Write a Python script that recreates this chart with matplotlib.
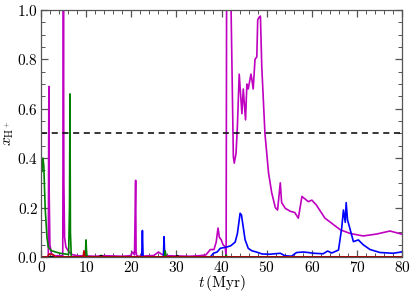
import matplotlib
matplotlib.use("Agg")
import matplotlib.pyplot as plt
from matplotlib.ticker import MultipleLocator, FuncFormatter

plt.rcParams['mathtext.fontset'] = 'cm'
plt.rcParams['font.family'] = ['DejaVu Serif']

# magenta series
t_mag = [0, 1.6, 1.72, 1.8, 1.95, 2.3, 3.0, 4.8, 4.95, 5.05, 5.2, 5.5, 6.0, 6.8, 8, 10, 12,
         14, 16, 18, 19.8, 20.3, 20.7, 20.95, 21.05, 21.2, 21.6, 23, 25, 26, 26.8, 28, 30,
         33, 35, 36.5, 37.5, 38.3, 38.8, 39.2, 39.5, 39.9, 40.3, 40.8, 41.0, 41.1, 42.1,
         42.6, 42.8, 43.2, 43.5, 43.9, 44.5, 44.8, 45.3, 45.6, 45.9, 46.5, 46.7, 47.0,
         47.4, 47.8, 48.0, 48.3, 48.6, 48.9, 49.6, 50.4, 51.1, 51.9, 52.4, 53.0, 53.3,
         54.1, 55.2, 56.2, 57.0, 57.8, 59.2, 60.0, 61.0, 62.9, 66.3, 68.5, 71.4, 74.4,
         77.3, 80]
v_mag = [0, 0.0, 0.69, 0.25, 0.05, 0.012, 0.005, 0.005, 1.0, 0.3, 0.08, 0.04, 0.025, 0.01,
         0.005, 0.004, 0.003, 0.005, 0.004, 0.003, 0.005, 0.02, 0.008, 0.31, 0.02, 0.005,
         0.003, 0.004, 0.006, 0.02, 0.01, 0.005, 0.004, 0.003, 0.005, 0.008, 0.03, 0.03,
         0.06, 0.117, 0.08, 0.07, 0.05, 0.04, 0.0, 1.0, 1.0, 0.406, 0.38, 0.42, 0.53, 0.74,
         0.58, 0.68, 0.555, 0.70, 0.68, 0.74, 0.72, 0.68, 0.80, 0.81, 0.96, 0.97, 0.975,
         0.77, 0.50, 0.34, 0.26, 0.20, 0.19, 0.30, 0.22, 0.197, 0.185, 0.18, 0.157, 0.245,
         0.224, 0.23, 0.21, 0.157, 0.11, 0.095, 0.085, 0.093, 0.105, 0.092]

# blue series
t_blue = [0, 22.3, 22.45, 22.6, 27.1, 27.25, 27.4, 37.5, 38.2, 39.0, 39.7, 41.1, 42.0, 43.0,
          43.5, 44.1, 44.4, 45.2, 45.9, 46.7, 47.7, 49.0, 50.7, 53.0, 54.0, 55.5, 56.6,
          58.1, 59.2, 60.3, 62.5, 63.5, 64.4, 65.9, 66.6, 67.0, 67.4, 67.6, 67.9, 68.5,
          69.2, 70.3, 71.4, 72.9, 75.1, 78.0, 79.8, 80]
v_blue = [0, 0.0, 0.107, 0.0, 0.0, 0.082, 0.0, 0.0, 0.015, 0.02, 0.035, 0.04, 0.045, 0.06,
          0.095, 0.177, 0.17, 0.07, 0.035, 0.025, 0.02, 0.012, 0.011, 0.015, 0.005, 0.003,
          0.018, 0.02, 0.018, 0.015, 0.013, 0.024, 0.016, 0.028, 0.116, 0.19, 0.14, 0.22,
          0.15, 0.11, 0.062, 0.069, 0.049, 0.03, 0.018, 0.015, 0.02, 0.022]

# green series
t_green = [0, 0.15, 0.4, 0.6, 0.9, 1.3, 1.6, 2.3, 4.2, 6.1, 6.3, 6.4, 6.5, 6.7, 9.8, 9.95,
           10.1, 10.4, 27.3, 27.5, 27.7, 40.8, 41.0, 41.2, 80]
v_green = [0.36, 0.345, 0.40, 0.37, 0.2, 0.08, 0.04, 0.025, 0.015, 0.01, 0.2, 0.66, 0.1,
           0.0, 0.0, 0.069, 0.01, 0.0, 0.0, 0.025, 0.0, 0.0, 0.008, 0.0, 0.0]

# red series
t_red = [0, 1.4, 1.8, 2.5, 3.2, 9.3, 9.5, 9.7, 80]
v_red = [0, 0.0, 0.012, 0.01, 0.0, 0.0, 0.025, 0.0, 0.0]

# black series
t_blk = [0, 12.8, 13.3, 13.8, 29.8, 30.2, 30.6, 80]
v_blk = [0, 0.0, 0.006, 0.0, 0.0, 0.005, 0.0, 0.0]

threshold = 0.5

fig = plt.figure(figsize=(4.15, 2.92), dpi=100)
ax = fig.add_axes([0.099, 0.12, 0.87, 0.846])

lw = 1.2
ax.plot(t_mag, v_mag, color='#c000c0', lw=lw)
ax.plot(t_blue, v_blue, color='#0000ff', lw=lw)
ax.plot(t_green, v_green, color='#008000', lw=lw)
ax.plot(t_blk, v_blk, color='black', lw=lw)
ax.plot(t_red, v_red, color='#c00000', lw=lw)
ax.axhline(threshold, color='black', ls='--', lw=1.1, dashes=(4, 3))

ax.set_xlim(0, 80)
ax.set_ylim(0, 1.0)
ax.xaxis.set_major_locator(MultipleLocator(10))
ax.xaxis.set_minor_locator(MultipleLocator(2))
ax.yaxis.set_major_locator(MultipleLocator(0.2))
ax.yaxis.set_minor_locator(MultipleLocator(0.05))
ax.xaxis.set_major_formatter(FuncFormatter(lambda v, p: r'$\mathbf{%d}$' % int(round(v))))
ax.yaxis.set_major_formatter(FuncFormatter(lambda v, p: r'$\mathbf{%.1f}$' % v))
ax.tick_params(which='both', direction='in', top=True, right=True, color='#555555',
               labelsize=11, pad=2)
ax.tick_params(which='major', length=5, width=0.9)
ax.tick_params(which='minor', length=3, width=0.7)
for s in ax.spines.values():
    s.set_color('#555555')
    s.set_linewidth(0.9)

ax.set_xlabel(r'$t\,(\mathrm{Myr})$', fontsize=11, labelpad=-1)
ax.set_ylabel(r'$x_{\mathrm{H}^+}$', fontsize=11, labelpad=1)

fig.savefig('out.png', dpi=100)
